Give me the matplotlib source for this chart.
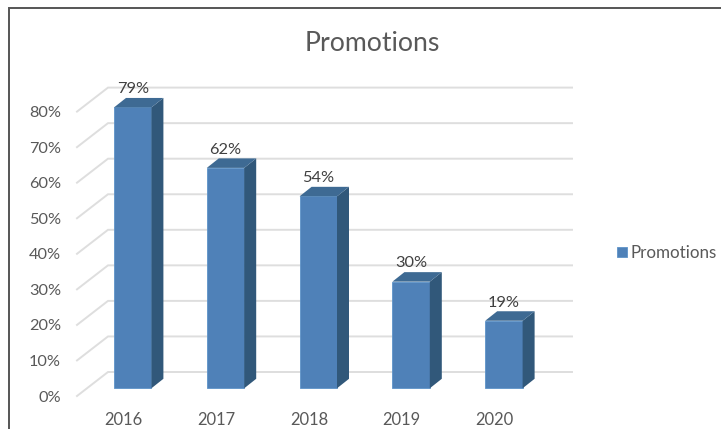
import matplotlib
matplotlib.use("Agg")
import matplotlib.pyplot as plt
from matplotlib.patches import Polygon, Rectangle

years = ["2016", "2017", "2018", "2019", "2020"]
values = [79, 62, 54, 30, 19]
ticks = [0, 10, 20, 30, 40, 50, 60, 70, 80]
series_name = "Promotions"
chart_title = "Promotions"

W, H = 721, 429
plt.rcParams["font.family"] = ["Lato", "DejaVu Sans"]
fig = plt.figure(figsize=(W / 100, H / 100), dpi=100, facecolor="white")

# Front floor plane in pixels
L, R, B, T = 77, 541, 396, 111.6
ax = fig.add_axes([L / W, 1 - B / H, (R - L) / W, (B - T) / H])
ax.set_xlim(-0.5, 4.5)
ax.set_ylim(0, 80)
ax.patch.set_visible(False)
for s in ax.spines.values():
    s.set_visible(False)

px_x = (R - L) / 5
px_y = (B - T) / 80
shift_x, shift_y = 9.3 / px_x, 7.7 / px_y       # bar front plane
depth_x, depth_y = 12 / px_x, 9.5 / px_y        # bar depth
wall_x, wall_y = 31 / px_x, 24 / px_y           # back wall
half = 18.7 / px_x

GRID = "#dedede"
for t in ticks:
    ax.plot([-0.5, -0.5 + wall_x, 4.5 + wall_x], [t, t + wall_y, t + wall_y],
            color=GRID, lw=1.4, clip_on=False, zorder=1, solid_joinstyle="miter")

positions = list(range(len(years)))
ax.bar([p + shift_x for p in positions], values, width=2 * half, bottom=shift_y,
       color="#4f81b8", edgecolor="#5e93c8", linewidth=0.6, zorder=3, clip_on=False,
       label=series_name)
for p, v in zip(positions, values):
    x0, x1 = p + shift_x - half, p + shift_x + half
    yb, yt = shift_y, shift_y + v
    ax.add_patch(Polygon([(x1, yb), (x1 + depth_x, yb + depth_y), (x1 + depth_x, yt + depth_y), (x1, yt)],
                         closed=True, fc="#31587a", ec="none", zorder=3, clip_on=False))
    ax.add_patch(Polygon([(x0, yt), (x0 + depth_x, yt + depth_y), (x1 + depth_x, yt + depth_y), (x1, yt)],
                         closed=True, fc="#3e6a93", ec="none", zorder=3, clip_on=False))
    ax.text(p + shift_x, yt + depth_y + 8.7 / px_y, f"{v}%", ha="center", va="center",
            fontsize=11.8, color="#404040", zorder=4, clip_on=False)

ax.set_xticks(positions, years)
ax.set_yticks(ticks, [f"{t}%" for t in ticks])
ax.tick_params(axis="y", length=0, labelsize=11.7, labelcolor="#595959", pad=11.5)
ax.tick_params(axis="x", length=0, labelsize=11.9, labelcolor="#595959", pad=11.4)

fig.text(372 / W, 1 - 43.5 / H, chart_title, ha="center", va="center", fontsize=19.2, color="#595959")

leg = ax.legend(loc="center left", bbox_to_anchor=(616.5 / W, 1 - 253 / H),
                bbox_transform=fig.transFigure, frameon=False, fontsize=12.25,
                labelcolor="#595959", handlelength=0.61, handleheight=0.61,
                handletextpad=0.22, borderpad=0, borderaxespad=0)

# Outer chart frame, running off the right and bottom of the image
fig.add_artist(Rectangle((8.5 / W, -0.1), 1.0, 1.1 - 8.5 / H,
                         transform=fig.transFigure, fill=False, ec="#555555", lw=1.4))

fig.savefig("out.png", dpi=100)
